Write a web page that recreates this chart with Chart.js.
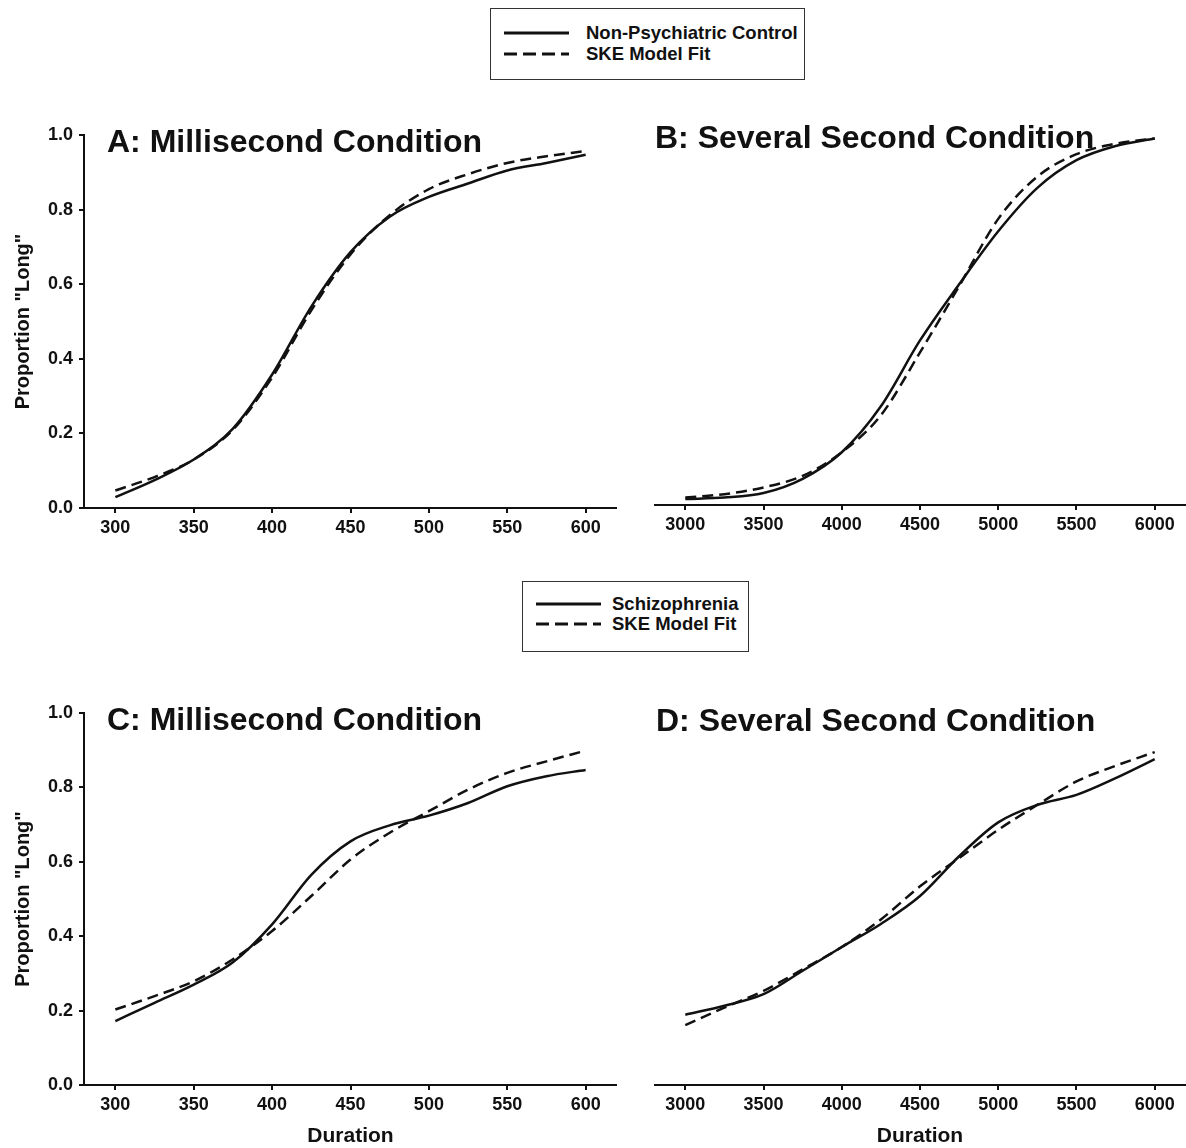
<!DOCTYPE html>
<html>
<head>
<meta charset="utf-8">
<script src="https://cdn.jsdelivr.net/npm/chart.js@4.4.1/dist/chart.umd.min.js"></script>
<style>
  body { margin: 0; background: #fff; width: 1186px; height: 1148px; position: relative; overflow: hidden;
         font-family: "Liberation Sans", Arial, sans-serif; font-weight: bold; color: #111; }
  .box { position: absolute; }
  .panel-title { position: absolute; font-size: 32px; line-height: 1; white-space: nowrap; }
  .legend { position: absolute; border: 1px solid #333; background: #fff; }
  .legend-text { position: absolute; font-size: 18.5px; line-height: 1; white-space: nowrap; }
</style>
</head>
<body>
<div class="legend" style="left:490px;top:8px;width:313px;height:70px;"></div>
<div class="legend" style="left:522px;top:581px;width:225px;height:69px;"></div>
<svg class="box" style="left:0;top:0;" width="1186" height="700">
  <line x1="504" y1="33" x2="569" y2="33" stroke="#111" stroke-width="3"/>
  <line x1="504" y1="54" x2="569" y2="54" stroke="#111" stroke-width="3" stroke-dasharray="13 6"/>
  <line x1="536" y1="604" x2="601" y2="604" stroke="#111" stroke-width="3"/>
  <line x1="536" y1="624" x2="601" y2="624" stroke="#111" stroke-width="3" stroke-dasharray="13 6"/>
</svg>
<div class="legend-text" style="left:586px;top:24px;">Non-Psychiatric Control</div>
<div class="legend-text" style="left:586px;top:45px;">SKE Model Fit</div>
<div class="legend-text" style="left:612px;top:595px;">Schizophrenia</div>
<div class="legend-text" style="left:612px;top:615px;">SKE Model Fit</div>

<div class="box" style="left:0;top:100px;"><canvas id="chartA" width="617" height="460"></canvas></div>
<div class="box" style="left:654px;top:100px;"><canvas id="chartB" width="532" height="460"></canvas></div>
<div class="box" style="left:0;top:690px;"><canvas id="chartC" width="617" height="458"></canvas></div>
<div class="box" style="left:654px;top:690px;"><canvas id="chartD" width="532" height="458"></canvas></div>

<div class="panel-title" style="left:107px;top:125px;">A: Millisecond Condition</div>
<div class="panel-title" style="left:655px;top:121px;">B: Several Second Condition</div>
<div class="panel-title" style="left:107px;top:703px;">C: Millisecond Condition</div>
<div class="panel-title" style="left:656px;top:704px;">D: Several Second Condition</div>

<script>
const msDurations = [300, 325, 350, 375, 400, 425, 450, 475, 500, 525, 550, 575, 600];
const secDurations = [3000, 3250, 3500, 3750, 4000, 4250, 4500, 4750, 5000, 5250, 5500, 5750, 6000];

const msTicks = [300, 350, 400, 450, 500, 550, 600];
const secTicks = [3000, 3500, 4000, 4500, 5000, 5500, 6000];
const propTicks = [0, 0.2, 0.4, 0.6, 0.8, 1.0];

// top row: non-psychiatric control
const controlMs = [0.029, 0.075, 0.13, 0.213, 0.358, 0.54, 0.686, 0.781, 0.834, 0.87, 0.905, 0.925, 0.947];
const controlMsFit = [0.047, 0.083, 0.13, 0.21, 0.35, 0.53, 0.68, 0.785, 0.855, 0.895, 0.925, 0.943, 0.957];
const controlSec = [0.016, 0.02, 0.032, 0.07, 0.141, 0.264, 0.44, 0.59, 0.732, 0.848, 0.922, 0.96, 0.98];
const controlSecFit = [0.02, 0.029, 0.047, 0.078, 0.141, 0.24, 0.408, 0.585, 0.765, 0.878, 0.938, 0.966, 0.98];

// bottom row: schizophrenia
const schizMs = [0.172, 0.221, 0.27, 0.33, 0.432, 0.565, 0.655, 0.698, 0.724, 0.758, 0.803, 0.83, 0.847];
const schizMsFit = [0.203, 0.239, 0.279, 0.338, 0.414, 0.508, 0.606, 0.678, 0.736, 0.794, 0.839, 0.87, 0.899];
const schizSec = [0.189, 0.213, 0.244, 0.307, 0.371, 0.433, 0.508, 0.615, 0.706, 0.753, 0.78, 0.825, 0.876];
const schizSecFit = [0.161, 0.208, 0.253, 0.311, 0.371, 0.445, 0.534, 0.61, 0.686, 0.753, 0.816, 0.858, 0.895];

Chart.defaults.font.family = '"Liberation Sans", Arial, sans-serif';
Chart.defaults.color = "#111";

const INK = "#111";
const tickFont = { size: 18, weight: "bold" };

function toPoints(xs, ys) {
  return xs.map((x, i) => ({ x: x, y: ys[i] }));
}

function makePanel(canvasId, xs, solid, dashed, opts) {
  const yScale = opts.showY
    ? {
        min: 0,
        max: 1,
        afterBuildTicks: (scale) => { scale.ticks = propTicks.map((v) => ({ value: v })); },
        afterFit: (scale) => { scale.width = 84; },
        border: { display: true, color: INK, width: 2 },
        grid: { drawOnChartArea: false, color: INK, lineWidth: 2, tickLength: 5 },
        ticks: { color: INK, font: tickFont, padding: 6, callback: (v) => Number(v).toFixed(1) },
        title: {
          display: true,
          text: 'Proportion "Long"',
          color: INK,
          font: { size: 20, weight: "bold", lineHeight: 1 },
          padding: { top: 13, bottom: 0 },
        },
      }
    : { display: false, min: 0, max: 1 };

  new Chart(document.getElementById(canvasId), {
    type: "line",
    data: {
      datasets: [
        {
          label: "observed",
          data: toPoints(xs, solid),
          borderColor: INK,
          borderWidth: 2.5,
          pointRadius: 0,
          cubicInterpolationMode: "monotone",
          fill: false,
        },
        {
          label: "SKE Model Fit",
          data: toPoints(xs, dashed),
          borderColor: INK,
          borderWidth: 2.5,
          borderDash: [11, 6],
          pointRadius: 0,
          cubicInterpolationMode: "monotone",
          fill: false,
        },
      ],
    },
    options: {
      responsive: false,
      animation: false,
      layout: { padding: { top: opts.padTop, left: 0, right: 0, bottom: 0 } },
      plugins: { legend: { display: false }, tooltip: { enabled: false } },
      scales: {
        x: {
          type: "linear",
          min: opts.xMin,
          max: opts.xMax,
          afterBuildTicks: (scale) => { scale.ticks = opts.xTicks.map((v) => ({ value: v })); },
          afterFit: (scale) => { scale.height = opts.xHeight; },
          border: { display: true, color: INK, width: 2 },
          grid: { drawOnChartArea: false, color: INK, lineWidth: 2, tickLength: 5 },
          ticks: { color: INK, font: tickFont, padding: 4, maxRotation: 0, autoSkip: false,
                   callback: (v) => String(v) },
          title: {
            display: opts.showXTitle,
            text: "Duration",
            color: INK,
            font: { size: 21, weight: "bold", lineHeight: 1 },
            padding: { top: 0, bottom: 1 },
          },
        },
        y: yScale,
      },
    },
  });
}

makePanel("chartA", msDurations, controlMs, controlMsFit,
  { showY: true, padTop: 35, xMin: 280, xMax: 620, xTicks: msTicks, xHeight: 52, showXTitle: false });
makePanel("chartB", secDurations, controlSec, controlSecFit,
  { showY: false, padTop: 31, xMin: 2800, xMax: 6200, xTicks: secTicks, xHeight: 55, showXTitle: false });
makePanel("chartC", msDurations, schizMs, schizMsFit,
  { showY: true, padTop: 23, xMin: 280, xMax: 620, xTicks: msTicks, xHeight: 63, showXTitle: true });
makePanel("chartD", secDurations, schizSec, schizSecFit,
  { showY: false, padTop: 23, xMin: 2800, xMax: 6200, xTicks: secTicks, xHeight: 63, showXTitle: true });
</script>
</body>
</html>
